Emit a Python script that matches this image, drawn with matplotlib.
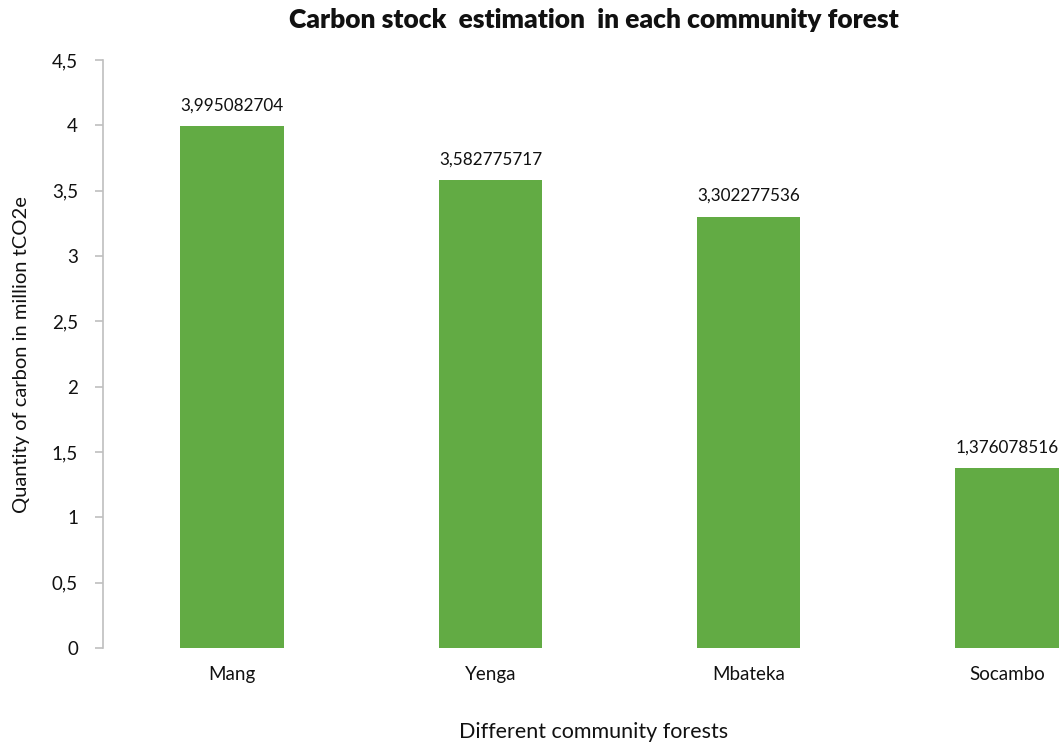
import matplotlib
matplotlib.use("Agg")
import matplotlib.pyplot as plt

forests = ["Mang", "Yenga", "Mbateka", "Socambo"]
carbon_stock = [3.995082704, 3.582775717, 3.302277536, 1.376078516]
y_ticks = [0, 0.5, 1, 1.5, 2, 2.5, 3, 3.5, 4, 4.5]
y_tick_labels = ["0", "0,5", "1", "1,5", "2", "2,5", "3", "3,5", "4", "4,5"]

plt.rcParams["font.family"] = ["Lato", "DejaVu Sans"]

W, H = 1059, 746
fig = plt.figure(figsize=(W / 100, H / 100), dpi=100)
# plot area runs past the right edge of the canvas
ax = fig.add_axes([103 / W, (H - 648) / H, (1136 - 103) / W, (648 - 60) / H])

x = range(len(forests))
ax.bar(x, carbon_stock, width=0.4, color="#62AB44", zorder=2)
for xi, v in zip(x, carbon_stock):
    ax.annotate(f"{v:.9f}".replace(".", ","), (xi, v), xytext=(0, 9),
                textcoords="offset points", ha="center", va="bottom",
                fontsize=12.3, color="#111111")

ax.set_xlim(-0.5, len(forests) - 0.5)
ax.set_ylim(0, 4.5)
ax.set_yticks(y_ticks)
ax.set_yticklabels(y_tick_labels, fontsize=13.5, color="#111111")
ax.set_xticks(list(x))
ax.set_xticklabels(forests, fontsize=13.5, color="#111111")

for s in ["top", "right", "bottom"]:
    ax.spines[s].set_visible(False)
ax.spines["left"].set_color("#BFBFBF")
ax.spines["left"].set_linewidth(1.2)
ax.tick_params(axis="y", length=6, color="#BFBFBF", width=1.2, pad=12)
ax.tick_params(axis="x", length=0, pad=13)

fig.text(594 / W, 1 - 20 / H, "Carbon stock  estimation  in each community forest",
         ha="center", va="center", fontsize=19, fontweight="heavy", color="#111111")
fig.text(594 / W, 1 - 732 / H, "Different community forests",
         ha="center", va="center", fontsize=15.5, color="#111111")
fig.text(22 / W, 1 - 355 / H, "Quantity of carbon in million tCO2e",
         ha="center", va="center", rotation=90, fontsize=14.5, color="#111111")

fig.savefig("out.png", dpi=100)
